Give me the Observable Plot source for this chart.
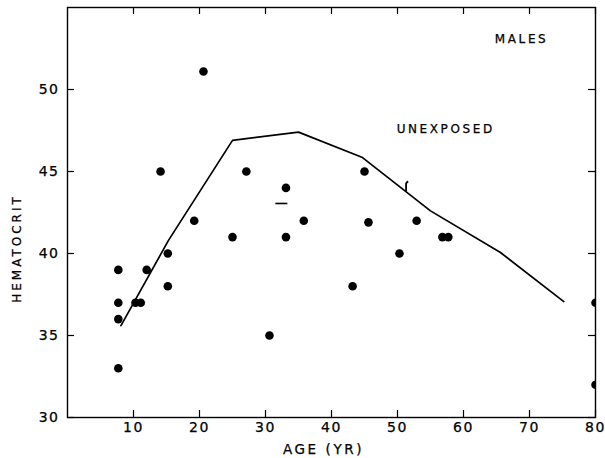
<!DOCTYPE html>
<html>
<head>
<meta charset="utf-8">
<script src="https://cdn.jsdelivr.net/npm/d3@7"></script>
<script src="https://cdn.jsdelivr.net/npm/@observablehq/plot@0.6"></script>
<style>
  html, body { margin: 0; padding: 0; background: #fff; }
  #chart { width: 605px; height: 458px; }
  svg { font-family: "DejaVu Sans", sans-serif; }
  svg text { letter-spacing: 1.5px; stroke: black; stroke-width: 0.25px; }
  svg text.note { letter-spacing: 2.6px; }
  svg text.xtitle { letter-spacing: 2.6px; }
  svg text.ytitle { letter-spacing: 3px; }
</style>
</head>
<body>
<div id="chart"></div>
<script>
// Individual observations (age in years, hematocrit %)
const ages       = [7.7, 7.7, 7.7, 7.7, 10.3, 11.1, 12.0, 14.1, 15.2, 15.2, 19.2, 20.6, 25.0, 27.1, 30.6, 33.1, 33.1, 35.8, 43.2, 45.0, 45.6, 50.3, 52.9, 56.8, 57.7, 80, 80];
const hematocrit = [39, 37, 36, 33, 37, 37, 39, 45, 40, 38, 42, 51.1, 41, 45, 35, 44, 41, 42, 38, 45, 41.9, 40, 42, 41, 41, 37, 32];

// "Unexposed" reference curve
const curveAge = [8.1, 15.3, 25.0, 35.0, 44.7, 55.0, 65.6, 75.2];
const curveHct = [35.6, 40.8, 46.9, 47.4, 45.85, 42.6, 40.06, 37.07];

// Small marks on the figure
const dashAge = [32.4];
const dashHct = [43.05];
const nickAge = [51.3];
const nickHct = [44.1];

// Annotations
const noteText = ["MALES", "UNEXPOSED"];
const noteAge  = [68.8, 57.3];
const noteHct  = [53.1, 47.6];

// Axis ticks
const xTicks = [10, 20, 30, 40, 50, 60, 70, 80];
const yTicks = [30, 35, 40, 45, 50];
const xTitle = "AGE (YR)";
const yTitle = "HEMATOCRIT";

const points = ages.map((a, i) => ({age: a, hct: hematocrit[i]}));
const curve  = curveAge.map((a, i) => ({age: a, hct: curveHct[i]}));
const dashes = dashAge.map((a, i) => ({age: a, hct: dashHct[i]}));
const nicks  = nickAge.map((a, i) => ({age: a, hct: nickHct[i]}));
const notes  = noteText.map((t, i) => ({text: t, age: noteAge[i], hct: noteHct[i]}));

const W = 605, H = 458;
const mL = 67, mR = 10, mT = 7, mB = 41;
const pw = W - mL - mR, ph = H - mT - mB;
const tk = 7;

const hDash = { draw(ctx, size) { const r = Math.sqrt(size / Math.PI); ctx.moveTo(-r, 0); ctx.lineTo(r, 0); } };
const vNick = { draw(ctx, size) { const r = Math.sqrt(size / Math.PI); ctx.moveTo(0, r); ctx.lineTo(0, -r * 0.6); ctx.lineTo(r * 0.4, -r); } };

const chart = Plot.plot({
  width: W, height: H,
  marginLeft: mL, marginRight: mR, marginTop: mT, marginBottom: mB,
  style: { color: "black", background: "white", fontFamily: "DejaVu Sans, sans-serif" },
  x: { domain: [0, 80], label: null },
  y: { domain: [30, 55], label: null },
  marks: [
    Plot.frame({ stroke: "black", strokeWidth: 1.4 }),
    // inward ticks on all four sides
    Plot.tickY(yTicks, { y: d => d, insetRight: pw - tk, stroke: "black", strokeWidth: 1.2 }),
    Plot.tickY(yTicks, { y: d => d, insetLeft: pw - tk, stroke: "black", strokeWidth: 1.2 }),
    Plot.tickX(xTicks, { x: d => d, insetTop: ph - tk, stroke: "black", strokeWidth: 1.2 }),
    Plot.tickX(xTicks, { x: d => d, insetBottom: ph - tk, stroke: "black", strokeWidth: 1.2 }),
    Plot.axisY({ ticks: yTicks, tickSize: 0, tickPadding: 8, fontSize: 14, label: null }),
    Plot.axisX({ ticks: xTicks, tickSize: 0, tickPadding: 5, fontSize: 14, label: null }),
    Plot.line(curve, { x: "age", y: "hct", stroke: "black", strokeWidth: 1.7 }),
    Plot.dot(points, { x: "age", y: "hct", r: 4.3, fill: "black", clip: true }),
    Plot.dot(dashes, { x: "age", y: "hct", r: 6, symbol: hDash, stroke: "black", strokeWidth: 1.6, fill: "none" }),
    Plot.dot(nicks, { x: "age", y: "hct", r: 5, symbol: vNick, stroke: "black", strokeWidth: 1.8, fill: "none" }),
    Plot.text(notes, { x: "age", y: "hct", text: "text", fontSize: 12, fill: "black" }),
    Plot.text([xTitle], { frameAnchor: "bottom", textAnchor: "middle", lineAnchor: "middle", dx: -8, dy: 32, fontSize: 13.5, fill: "black" }),
    Plot.text([yTitle], { frameAnchor: "left", textAnchor: "middle", lineAnchor: "middle", rotate: -90, dx: -50, dy: 36, fontSize: 12, fill: "black" })
  ]
});
d3.select(chart).selectAll("text").each(function () {
  const t = this.textContent;
  if (noteText.includes(t)) this.classList.add("note");
  else if (t === xTitle) this.classList.add("xtitle");
  else if (t === yTitle) this.classList.add("ytitle");
});
document.getElementById("chart").appendChild(chart);
</script>
</body>
</html>
